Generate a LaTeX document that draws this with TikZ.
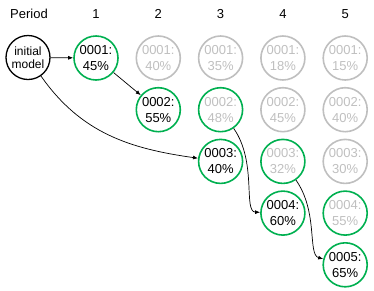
\documentclass[tikz,border=0pt]{standalone}
\usepackage{fontspec}
\setmainfont{Liberation Sans}
\usepackage{tikz}
\usetikzlibrary{arrows.meta}
\definecolor{Pick}{HTML}{00B050}
\definecolor{Fade}{HTML}{BFBFBF}
\definecolor{Ink}{HTML}{000000}
\begin{document}
\begin{tikzpicture}[x=1pt,y=1pt,
    model/.style={circle,draw=Ink,line width=1.3pt,minimum size=44pt,inner sep=0pt,
      align=center,font=\fontsize{12}{13.5}\selectfont},
    best/.style={circle,draw=Pick,line width=1.6pt,minimum size=44pt,inner sep=0pt,
      align=center,text=Ink,font=\fontsize{13}{16}\selectfont},
    kept/.style={best,text=Fade},
    dropped/.style={best,draw=Fade,text=Fade},
    link/.style={Ink,line width=0.7pt,-{Latex[length=5pt,width=4pt]}}]
  \useasboundingbox (0,0) rectangle (374,-290);
  \node[font=\fontsize{13}{15}\selectfont] (hd0) at (29,-14) {Period};
  \foreach \c in {1,...,5}
    \node[font=\fontsize{13}{15}\selectfont] (hd\c) at ({96+62.3*(\c-1)},-14) {\c};
  \node[model] (init) at (28,-57.5) {initial\\model};
  \foreach \c/\r/\v/\s in {
    1/1/45/best,
    2/1/40/dropped, 2/2/55/best,
    3/1/35/dropped, 3/2/48/kept, 3/3/40/best,
    4/1/18/dropped, 4/2/45/dropped, 4/3/32/kept, 4/4/60/best,
    5/1/15/dropped, 5/2/40/dropped, 5/3/30/dropped, 5/4/55/kept, 5/5/65/best} {
    \node[\s] (n\c\r) at ({96+62.3*(\c-1)},{-58-51.7*(\r-1)}) {000\r:\\\v\%};
  }
  % chosen models
  \draw[link] (init) -- (n11);
  \draw[link] (n11) -- (n22);
  \draw[link] (init) to[out=-55,in=172] (n33);
  \draw[link] (n32) to[out=-55,in=178,out looseness=1.2,in looseness=0.5] (n44);
  \draw[link] (n43) to[out=-55,in=165,out looseness=1.2,in looseness=0.5] (n55);
\end{tikzpicture}
\end{document}
